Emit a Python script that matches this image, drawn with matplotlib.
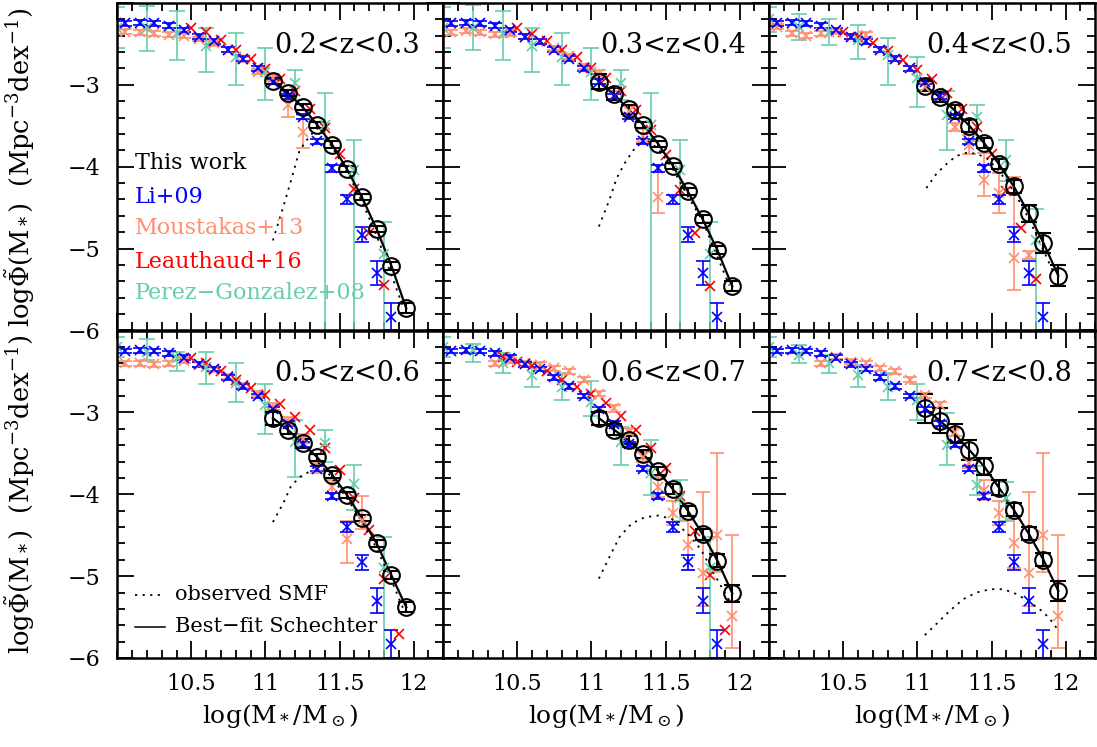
import matplotlib.pyplot as plt
from matplotlib.ticker import MultipleLocator

plt.rcParams['font.family'] = 'DejaVu Serif'
plt.rcParams['mathtext.fontset'] = 'dejavuserif'

z_labels = ['0.2<z<0.3', '0.3<z<0.4', '0.4<z<0.5', '0.5<z<0.6', '0.6<z<0.7', '0.7<z<0.8']

# Li+09 (same in every panel)
li_x = [10.05, 10.15, 10.25, 10.35, 10.45, 10.55, 10.65, 10.75, 10.85, 10.95,
        11.05, 11.15, 11.25, 11.35, 11.45, 11.55, 11.65, 11.75, 11.85]
li_y = [-2.25, -2.24, -2.25, -2.28, -2.33, -2.41, -2.47, -2.57, -2.68, -2.80,
        -2.96, -3.14, -3.39, -3.69, -4.02, -4.40, -4.83, -5.30, -5.83]
li_err = [0.03, 0.03, 0.03, 0.03, 0.03, 0.03, 0.03, 0.03, 0.03, 0.03,
          0.03, 0.03, 0.03, 0.03, 0.04, 0.06, 0.09, 0.15, 0.17]

# this work
work_x = [11.05, 11.15, 11.25, 11.35, 11.45, 11.55, 11.65, 11.75, 11.85, 11.95]
work_y = [
    [-2.95, -3.10, -3.27, -3.49, -3.73, -4.03, -4.37, -4.76, -5.21, -5.73],
    [-2.96, -3.11, -3.30, -3.49, -3.72, -3.99, -4.30, -4.64, -5.02, -5.46],
    [-3.01, -3.15, -3.31, -3.50, -3.71, -3.97, -4.24, -4.57, -4.93, -5.33],
    [-3.07, -3.21, -3.38, -3.55, -3.76, -4.01, -4.29, -4.60, -4.99, -5.38],
    [-3.07, -3.21, -3.34, -3.51, -3.72, -3.94, -4.20, -4.49, -4.81, -5.21],
    [-2.95, -3.10, -3.26, -3.46, -3.66, -3.92, -4.19, -4.48, -4.80, -5.18],
]
work_err = [
    [0.04, 0.04, 0.04, 0.04, 0.04, 0.04, 0.04, 0.04, 0.05, 0.06],
    [0.09, 0.07, 0.05, 0.04, 0.04, 0.04, 0.04, 0.05, 0.05, 0.06],
    [0.06, 0.06, 0.06, 0.07, 0.06, 0.06, 0.08, 0.10, 0.12, 0.13],
    [0.08, 0.06, 0.05, 0.04, 0.04, 0.04, 0.04, 0.04, 0.05, 0.06],
    [0.08, 0.07, 0.05, 0.05, 0.05, 0.06, 0.06, 0.07, 0.08, 0.10],
    [0.18, 0.15, 0.12, 0.12, 0.10, 0.09, 0.08, 0.08, 0.08, 0.12],
]

# observed SMF (dotted)
obs_x = [
    [11.05, 11.12, 11.18, 11.23, 11.30, 11.36, 11.45, 11.55, 11.65, 11.75, 11.85, 11.93],
    [11.05, 11.12, 11.17, 11.23, 11.29, 11.35, 11.45, 11.55, 11.65, 11.75, 11.85, 11.93],
    [11.06, 11.13, 11.20, 11.26, 11.33, 11.40, 11.47, 11.55, 11.65, 11.75, 11.85, 11.92],
    [11.05, 11.12, 11.17, 11.23, 11.29, 11.36, 11.45, 11.55, 11.65, 11.75, 11.85, 11.93],
    [11.05, 11.12, 11.19, 11.27, 11.36, 11.45, 11.54, 11.60, 11.67, 11.74, 11.80, 11.87, 11.94],
    [11.05, 11.13, 11.22, 11.31, 11.40, 11.49, 11.58, 11.67, 11.76, 11.85, 11.92, 11.94],
]
obs_y = [
    [-4.90, -4.49, -4.12, -3.80, -3.62, -3.52, -3.76, -4.06, -4.42, -4.84, -5.32, -5.72],
    [-4.73, -4.41, -4.14, -3.94, -3.78, -3.64, -3.78, -4.03, -4.36, -4.66, -5.10, -5.45],
    [-4.26, -4.08, -3.96, -3.87, -3.83, -3.84, -3.90, -4.05, -4.30, -4.63, -5.02, -5.30],
    [-4.34, -4.11, -3.91, -3.79, -3.73, -3.62, -3.80, -4.05, -4.33, -4.66, -5.05, -5.40],
    [-5.03, -4.77, -4.52, -4.36, -4.28, -4.26, -4.30, -4.40, -4.52, -4.68, -4.88, -5.11, -5.33],
    [-5.72, -5.58, -5.42, -5.28, -5.20, -5.16, -5.16, -5.22, -5.32, -5.44, -5.58, -5.64],
]

# Leauthaud+16 (no points in the last bin)
lea_x = [
    [10.5, 10.6, 10.7, 10.8, 10.9, 11.0, 11.1, 11.2, 11.3, 11.4, 11.5, 11.6, 11.7, 11.8],
    [10.5, 10.6, 10.7, 10.8, 10.9, 11.0, 11.1, 11.2, 11.3, 11.4, 11.5, 11.6, 11.7, 11.8],
    [10.5, 10.6, 10.7, 10.8, 10.9, 11.0, 11.1, 11.2, 11.3, 11.4, 11.5, 11.6, 11.7, 11.8],
    [10.5, 10.6, 10.7, 10.8, 10.9, 11.0, 11.1, 11.2, 11.3, 11.4, 11.5, 11.6, 11.7, 11.8, 11.9],
    [10.4, 10.5, 10.6, 10.7, 10.8, 10.9, 11.0, 11.1, 11.2, 11.3, 11.4, 11.5, 11.6, 11.7, 11.8, 11.9],
    [],
]
lea_y = [
    [-2.30, -2.35, -2.45, -2.57, -2.69, -2.81, -2.93, -3.07, -3.29, -3.53, -3.84, -4.27, -4.81, -5.44],
    [-2.30, -2.38, -2.46, -2.57, -2.66, -2.80, -2.92, -3.08, -3.31, -3.55, -3.86, -4.29, -4.81, -5.46],
    [-2.35, -2.42, -2.49, -2.59, -2.70, -2.82, -2.93, -3.10, -3.29, -3.51, -3.84, -4.30, -4.75, -5.37],
    [-2.34, -2.40, -2.49, -2.60, -2.70, -2.79, -2.90, -3.06, -3.22, -3.44, -3.70, -4.05, -4.44, -5.03, -5.71],
    [-2.32, -2.38, -2.43, -2.50, -2.60, -2.69, -2.78, -2.88, -3.04, -3.21, -3.43, -3.68, -4.02, -4.45, -4.99, -5.66],
    [],
]

# Moustakas+13 (asymmetric bars at the massive end)
mou_x = [
    [10.05, 10.15, 10.25, 10.35, 10.45, 10.55, 10.65, 10.75, 10.85, 10.95, 11.05, 11.15, 11.25],
    [10.05, 10.15, 10.25, 10.35, 10.45, 10.55, 10.65, 10.75, 10.85, 10.95, 11.05, 11.15, 11.25, 11.35, 11.45],
    [10.05, 10.15, 10.25, 10.35, 10.45, 10.55, 10.65, 10.75, 10.85, 10.95, 11.05, 11.15, 11.25, 11.35, 11.45, 11.55, 11.65, 11.75],
    [10.05, 10.15, 10.25, 10.35, 10.45, 10.55, 10.65, 10.75, 10.85, 10.95, 11.05, 11.15, 11.25, 11.35, 11.45, 11.55, 11.65],
    [10.35, 10.45, 10.55, 10.65, 10.75, 10.85, 10.95, 11.05, 11.15, 11.25, 11.35, 11.45, 11.55, 11.65, 11.75, 11.85, 11.95],
    [10.35, 10.45, 10.55, 10.65, 10.75, 10.85, 10.95, 11.05, 11.15, 11.25, 11.35, 11.45, 11.55, 11.65, 11.75, 11.85, 11.95],
]
mou_y = [
    [-2.35, -2.36, -2.37, -2.39, -2.40, -2.44, -2.49, -2.57, -2.69, -2.84, -2.91, -3.25, -3.57],
    [-2.36, -2.34, -2.36, -2.38, -2.37, -2.41, -2.47, -2.55, -2.65, -2.78, -2.87, -3.13, -3.32, -3.62, -4.37],
    [-2.29, -2.37, -2.40, -2.37, -2.35, -2.41, -2.39, -2.57, -2.68, -2.80, -3.02, -3.14, -3.51, -3.73, -4.16, -4.32, -5.12, -5.08],
    [-2.40, -2.40, -2.41, -2.40, -2.37, -2.42, -2.48, -2.56, -2.67, -2.77, -2.93, -3.11, -3.32, -3.68, -3.91, -4.55, -4.31],
    [-2.40, -2.37, -2.40, -2.42, -2.46, -2.50, -2.60, -2.77, -2.95, -3.24, -3.54, -3.91, -4.23, -4.62, -4.96, -4.50, -5.49],
    [-2.40, -2.32, -2.38, -2.40, -2.46, -2.50, -2.60, -2.79, -2.91, -3.24, -3.62, -3.95, -4.23, -4.60, -4.96, -4.50, -5.49],
]
mou_hi = [
    [0.03, 0.03, 0.03, 0.03, 0.03, 0.03, 0.03, 0.03, 0.03, 0.03, 0.04, 0.12, 0.20],
    [0.03, 0.03, 0.03, 0.03, 0.03, 0.03, 0.03, 0.03, 0.03, 0.03, 0.05, 0.06, 0.06, 0.08, 0.39],
    [0.03, 0.03, 0.03, 0.03, 0.03, 0.03, 0.03, 0.03, 0.03, 0.03, 0.04, 0.05, 0.05, 0.12, 0.33, 0.24, 1.00, 0.05],
    [0.03, 0.03, 0.03, 0.03, 0.03, 0.03, 0.03, 0.03, 0.03, 0.03, 0.04, 0.05, 0.05, 0.06, 0.08, 0.22, 0.29],
    [0.03, 0.03, 0.03, 0.03, 0.03, 0.03, 0.03, 0.03, 0.04, 0.05, 0.06, 0.12, 0.15, 0.30, 0.99, 1.00, 0.99],
    [0.03, 0.03, 0.03, 0.03, 0.03, 0.03, 0.03, 0.03, 0.04, 0.05, 0.06, 0.12, 0.15, 0.30, 0.99, 1.00, 0.99],
]
mou_lo = [
    [0.03, 0.03, 0.03, 0.03, 0.03, 0.03, 0.03, 0.03, 0.03, 0.03, 0.04, 0.14, 0.20],
    [0.03, 0.03, 0.03, 0.03, 0.03, 0.03, 0.03, 0.03, 0.03, 0.03, 0.05, 0.06, 0.06, 0.08, 0.20],
    [0.03, 0.03, 0.03, 0.03, 0.03, 0.03, 0.03, 0.03, 0.03, 0.03, 0.04, 0.05, 0.05, 0.12, 0.20, 0.24, 0.39, 0.05],
    [0.03, 0.03, 0.03, 0.03, 0.03, 0.03, 0.03, 0.03, 0.03, 0.03, 0.04, 0.05, 0.05, 0.06, 0.08, 0.29, 0.12],
    [0.03, 0.03, 0.03, 0.03, 0.03, 0.03, 0.03, 0.03, 0.04, 0.05, 0.06, 0.12, 0.15, 0.30, 0.40, 0.45, 0.39],
    [0.03, 0.03, 0.03, 0.03, 0.03, 0.03, 0.03, 0.03, 0.04, 0.05, 0.06, 0.12, 0.15, 0.30, 0.40, 0.45, 0.39],
]

# Perez-Gonzalez+08 (lower bars that drop past the frame are given a large value)
pg_x = [
    [10.0, 10.2, 10.4, 10.6, 10.8, 11.0, 11.2, 11.4, 11.6, 11.8],
    [10.0, 10.2, 10.4, 10.6, 10.8, 11.0, 11.2, 11.4, 11.6, 11.8],
    [10.0, 10.2, 10.4, 10.6, 10.8, 11.0, 11.2, 11.4, 11.6, 11.8],
    [10.0, 10.2, 10.4, 10.6, 10.8, 11.0, 11.2, 11.4, 11.6, 11.8],
    [10.0, 10.2, 10.4, 10.6, 10.8, 11.0, 11.2, 11.4, 11.6, 11.8],
    [10.0, 10.2, 10.4, 10.6, 10.8, 11.0, 11.2, 11.4, 11.6],
]
pg_y = [
    [-2.30, -2.31, -2.37, -2.53, -2.66, -2.84, -2.98, -3.49, -4.04, -5.06],
    [-2.30, -2.30, -2.37, -2.53, -2.66, -2.84, -2.98, -3.49, -4.04, -5.06],
    [-2.20, -2.29, -2.35, -2.45, -2.63, -2.92, -3.37, -3.39, -3.92, -4.89],
    [-2.20, -2.26, -2.34, -2.44, -2.64, -2.91, -3.36, -3.38, -3.87, -4.90],
    [-2.20, -2.24, -2.40, -2.54, -2.69, -2.87, -3.36, -3.74, -4.05, -4.90],
    [-2.20, -2.30, -2.40, -2.54, -2.69, -2.85, -3.40, -3.89, -4.05],
]
pg_lo = [
    [0.25, 0.28, 0.33, 0.31, 0.34, 0.34, 0.20, 3.0, 3.0, 3.0],
    [0.25, 0.28, 0.33, 0.31, 0.34, 0.34, 0.20, 3.0, 3.0, 3.0],
    [0.15, 0.16, 0.16, 0.23, 0.37, 0.35, 0.42, 0.30, 0.25, 3.0],
    [0.12, 0.10, 0.16, 0.21, 0.23, 0.35, 0.43, 0.22, 0.32, 3.0],
    [0.12, 0.14, 0.12, 0.15, 0.16, 0.18, 0.28, 0.27, 0.28, 3.0],
    [0.12, 0.10, 0.12, 0.15, 0.16, 0.24, 0.24, 0.12, 0.28],
]
pg_hi = [
    [0.25, 0.27, 0.27, 0.22, 0.29, 0.29, 0.16, 0.39, 0.37, 0.39],
    [0.25, 0.27, 0.27, 0.22, 0.29, 0.29, 0.16, 0.39, 0.37, 0.39],
    [0.15, 0.16, 0.16, 0.18, 0.20, 0.26, 0.29, 0.14, 0.25, 0.38],
    [0.12, 0.16, 0.08, 0.18, 0.24, 0.26, 0.27, 0.16, 0.23, 0.38],
    [0.12, 0.08, 0.12, 0.14, 0.17, 0.25, 0.18, 0.40, 0.22, 0.38],
    [0.12, 0.12, 0.10, 0.12, 0.17, 0.20, 0.39, 0.23, 0.20],
]

c_li = '#0000ff'
c_mou = '#ff8f70'
c_lea = '#ff0000'
c_pg = '#66cdaa'
dots = (0, (1.2, 3.0))

fig = plt.figure(figsize=(10.97, 7.47), dpi=100)
W, H = 1097.0, 747.0
left, top = 117.3, 3.0
pw, ph = 326.0, 327.5

axes = []
for i in range(6):
    row, col = divmod(i, 3)
    x0 = left + col * pw
    y0 = top + row * ph
    ax = fig.add_axes([x0 / W, 1 - (y0 + ph) / H, pw / W, ph / H])
    axes.append(ax)

    ax.errorbar(pg_x[i], pg_y[i], yerr=[pg_lo[i], pg_hi[i]], fmt='x', color=c_pg,
                ms=7, mew=1.2, elinewidth=1.2, capsize=6, capthick=1.2)
    ax.errorbar(mou_x[i], mou_y[i], yerr=[mou_lo[i], mou_hi[i]], fmt='x', color=c_mou,
                ms=7, mew=1.2, elinewidth=1.2, capsize=5, capthick=1.2)
    ax.errorbar(li_x, li_y, yerr=li_err, fmt='x', color=c_li,
                ms=7, mew=1.2, elinewidth=1.2, capsize=5, capthick=1.2)
    ax.plot(lea_x[i], lea_y[i], 'x', color=c_lea, ms=7.5, mew=1.2)
    ax.plot(obs_x[i], obs_y[i], linestyle=dots, color='black', lw=1.3)
    ax.plot(work_x, work_y[i], '-', color='black', lw=1.6)
    ax.errorbar(work_x, work_y[i], yerr=work_err[i], fmt='o', color='black',
                mfc='none', ms=12, mew=1.5, elinewidth=1.5, capsize=5.5, capthick=1.5)

    ax.text(0.93, 0.87, z_labels[i], transform=ax.transAxes, ha='right', va='center',
            fontsize=19.5)

    ax.set_xlim(10.0, 12.2)
    ax.set_ylim(-6.0, -2.0)
    ax.xaxis.set_major_locator(MultipleLocator(0.5))
    ax.xaxis.set_minor_locator(MultipleLocator(0.1))
    ax.yaxis.set_major_locator(MultipleLocator(1.0))
    ax.yaxis.set_minor_locator(MultipleLocator(0.2))
    ax.tick_params(which='both', direction='in', top=True, right=True, width=1.3)
    ax.tick_params(which='major', length=12)
    ax.tick_params(which='minor', length=6)
    ax.tick_params(axis='y', pad=12)
    ax.tick_params(axis='x', pad=11)
    for s in ax.spines.values():
        s.set_linewidth(1.8)

    if row == 1:
        ax.set_xticks([10.5, 11.0, 11.5, 12.0])
        ax.set_xticklabels(['10.5', '11', '11.5', '12'], fontsize=16)
        ax.set_xlabel(r'log(M$_*$/M$_\odot$)', fontsize=18)
        ax.xaxis.set_label_coords(0.5, -0.135)
    else:
        ax.set_xticklabels([])
    if col == 0:
        ax.set_yticks([-6, -5, -4, -3, -2])
        ax.set_yticklabels(['\u22126', '\u22125', '\u22124', '\u22123', ''], fontsize=16)
        ax.set_ylabel(r'log$\tilde{\Phi}$(M$_*$)  (Mpc$^{-3}$dex$^{-1}$)', fontsize=18.5)
        ax.yaxis.set_label_coords(-0.245, 0.5)
    else:
        ax.set_yticklabels([])

# legend texts in the first panel
leg_names = ['This work', 'Li+09', 'Moustakas+13', 'Leauthaud+16', 'Perez\u2212Gonzalez+08']
leg_colors = ['black', c_li, c_mou, c_lea, c_pg]
leg_y = [-3.95, -4.37, -4.75, -5.16, -5.54]
for name, c, yy in zip(leg_names, leg_colors, leg_y):
    axes[0].text(10.12, yy, name, color=c, fontsize=16, va='center', ha='left')

# line-style key in the fourth panel
axes[3].plot([10.12, 10.32], [-5.23, -5.23], linestyle=dots, color='black', lw=1.3)
axes[3].text(10.39, -5.23, 'observed SMF', fontsize=15, va='center')
axes[3].plot([10.12, 10.32], [-5.62, -5.62], '-', color='black', lw=1.1)
axes[3].text(10.39, -5.62, 'Best\u2212fit Schechter', fontsize=15, va='center')

fig.savefig('out.png', dpi=100)
